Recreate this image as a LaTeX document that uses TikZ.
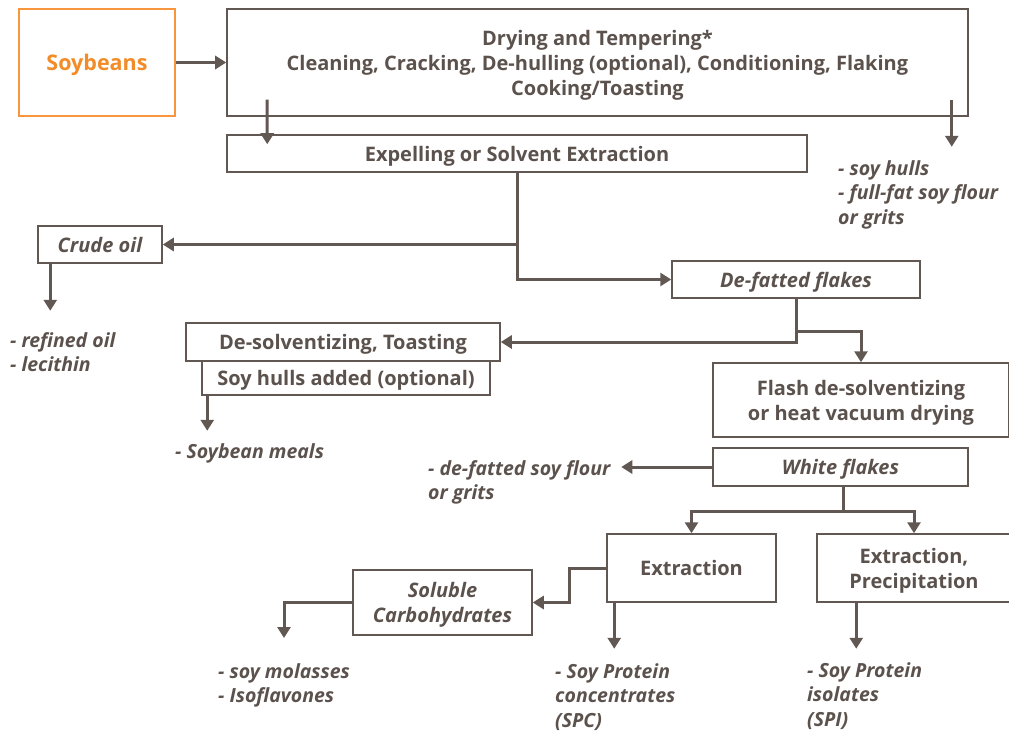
\documentclass[tikz,border=0pt]{standalone}
\usepackage{fontspec}
\setmainfont{Open Sans}
\usetikzlibrary{arrows.meta,calc}
\definecolor{ink}{RGB}{98,88,83}
\definecolor{txt}{RGB}{92,82,77}
\definecolor{orng}{RGB}{247,150,60}
\definecolor{orngtxt}{RGB}{242,140,40}
\begin{document}
\begin{tikzpicture}[x=1bp,y=-1bp,
  every node/.style={font=\fontsize{20bp}{25bp}\selectfont\bfseries, text=txt, inner sep=0pt},
  box/.style={draw=ink, line width=1.5bp, fill=white, align=center, text depth=-3bp},
  it/.style={font=\fontsize{20bp}{25bp}\selectfont\bfseries\itshape},
  lbl/.style={font=\fontsize{19.5bp}{24.5bp}\selectfont\bfseries\itshape, align=left, anchor=north west},
  arr/.style={draw=ink, line width=3bp, -{Triangle[length=11bp,width=13bp]}},
  ln/.style={draw=ink, line width=3bp}]
\useasboundingbox (0,0) rectangle (1009,731);

% boxes
\node[box, draw=orng, text=orngtxt, font=\fontsize{21.5bp}{25bp}\selectfont\bfseries, minimum width=156bp, minimum height=107bp] (soy) at (97,62.5) {Soybeans};
\node[box, minimum width=741bp, minimum height=107bp] (main) at (597.5,62.5) {Drying and Tempering*\\Cleaning, Cracking, De-hulling (optional), Conditioning, Flaking\\Cooking/Toasting};
\node[box, minimum width=580bp, minimum height=37bp] (exp) at (517,153.5) {Expelling or Solvent Extraction};
\node[box, it, minimum width=124bp, minimum height=37bp] (crude) at (100,244.5) {Crude oil};
\node[box, it, minimum width=248bp, minimum height=37bp] (defat) at (796,279.5) {De-fatted flakes};
\node[box, minimum width=288bp, minimum height=34bp] (hulls) at (346,378) {Soy hulls added (optional)};
\node[box, minimum width=314bp, minimum height=38bp] (desolv) at (343,342) {De-solventizing, Toasting};
\node[box, minimum width=296bp, minimum height=74bp] (flash) at (861,400) {Flash de-solventizing\\or heat vacuum drying};
\node[box, it, minimum width=255bp, minimum height=38bp] (white) at (840.5,467) {White flakes};
\node[box, minimum width=169bp, minimum height=68bp] (extr) at (691.5,568) {Extraction};
\node[box, minimum width=194bp, minimum height=68bp] (extrp) at (914,568) {Extraction,\\Precipitation};
\node[box, it, minimum width=179bp, minimum height=65bp] (sol) at (442.5,602.5) {Soluble\\Carbohydrates};

% output labels
\node[lbl] (o1) at (838,160) {- soy hulls\\- full-fat soy flour\\or grits};
\node[lbl] (o2) at (10,332) {- refined oil\\- lecithin};
\node[lbl] (o3) at (175,443) {- Soybean meals};
\node[lbl] (o4) at (428,460) {- de-fatted soy flour\\or grits};
\node[lbl] (o5) at (218,663) {- soy molasses\\- Isoflavones};
\node[lbl] (o6) at (555,663) {- Soy Protein\\concentrates\\(SPC)};
\node[lbl] (o7) at (807,662) {- Soy Protein\\isolates\\(SPI)};

% connectors
\draw[arr] (soy.east) -- (soy.east -| main.west);
\draw[arr] ($(main.south west)+(41,-17)$) -- ($(exp.north west)+(41,10)$);
\draw[arr] ($(main.south east)+(-17,-17)$) -- ($(main.south east)+(-17,30)$);
\draw[arr] (exp.south) |- (defat.west);
\draw[arr] (exp.south |- crude.east) -- (crude.east);
\draw[arr] ($(crude.south west)+(13,0)$) -- ++(0,47);
\draw[arr] (defat.south) |- (desolv.east);
\draw[arr] ($(defat.south)+(0,33)$) -| (flash.north);
\draw[arr] ($(hulls.south west)+(6,0)$) -- ++(0,35);
\draw[arr] (white.west) -- ++(-91,0);
\coordinate (wj) at (843,511);
\draw[ln] (white.south -| wj) -- (wj);
\draw[arr] (wj) -| (extr.north);
\draw[arr] (wj) -| (extrp.north);
\draw[arr] (extr.west) -- ++(-37,0) |- (sol.east);
\coordinate (sj) at (284,638);
\draw[arr] (sol.west) -| (sj);
\draw[arr] ($(extr.south west)+(8,0)$) -- ++(0,46);
\draw[arr] ($(extrp.south west)+(40,0)$) -- ++(0,46);
\end{tikzpicture}
\end{document}
